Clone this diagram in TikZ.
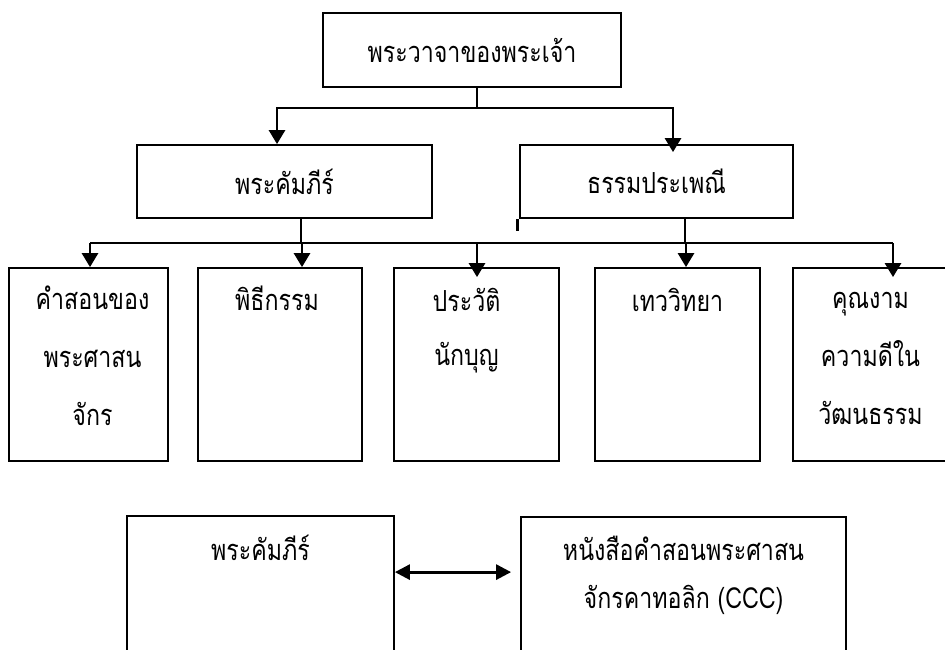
\documentclass[tikz,border=0pt]{standalone}
\usepackage{fontspec}
\newfontfamily\thaifont[Script=Thai,FakeStretch=0.8]{Loma}
\usetikzlibrary{arrows.meta,calc}
\begin{document}
\begin{tikzpicture}[x=1pt,y=-1pt,
  box/.style={draw=black,line width=1.8pt,rectangle,inner sep=0pt},
  txt/.style={font=\thaifont\fontsize{29}{58}\selectfont,align=center,inner sep=0pt},
  conn/.style={draw=black,line width=2.8pt},
  arr/.style={conn,-{Triangle[width=16pt,length=14pt]}},
  darr/.style={conn,{Triangle[width=15pt,length=15pt]}-{Triangle[width=15pt,length=15pt]}}]
\useasboundingbox (0,0) rectangle (945,649);
\fill[white] (0,0) rectangle (945,649);
% boxes
\node[box,minimum width=298pt,minimum height=74pt] (top) at (472,50) {};
\node[box,minimum width=295pt,minimum height=73pt] (lm) at (284.5,181.5) {};
\node[box,minimum width=273pt,minimum height=73pt] (rm) at (656.5,181.5) {};
\node[box,minimum width=159pt,minimum height=193pt] (b1) at (88.5,364.5) {};
\node[box,minimum width=164pt,minimum height=193pt] (b2) at (280,364.5) {};
\node[box,minimum width=165pt,minimum height=193pt] (b3) at (476.5,364.5) {};
\node[box,minimum width=165pt,minimum height=193pt] (b4) at (677.5,364.5) {};
\node[box,minimum width=155pt,minimum height=193pt] (b5) at (870.5,364.5) {};
\node[box,minimum width=267pt,minimum height=150pt] (bl) at (260.5,591) {};
\node[box,minimum width=325pt,minimum height=150pt] (br) at (683.5,592) {};
% texts
\node[txt] at (top.center) {พระวาจาของพระเจ้า};
\node[txt] at (lm.center) {พระคัมภีร์};
\node[txt] at (rm.center) {ธรรมประเพณี};
\node[txt,anchor=north] at ($(b1.north)+(4,19)$) {คำสอนของ\\พระศาสน\\จักร};
\node[txt,anchor=north] at ($(b2.north)+(-3,19)$) {พิธีกรรม};
\node[txt,anchor=north] at ($(b3.north)+(-10,21)$) {ประวัติ\\[-4pt]นักบุญ};
\node[txt,anchor=north] at ($(b4.north)+(0,21)$) {เทววิทยา};
\node[txt,anchor=north] at ($(b5.north)+(0,25)$) {คุณงาม\\ความดีใน\\วัฒนธรรม};
\node[txt,anchor=north] at ($(bl.north)+(0,20)$) {พระคัมภีร์};
\node[txt,anchor=north] at ($(br.north)+(0,20)$) {หนังสือคำสอนพระศาสน\\[-10pt]จักรคาทอลิก (CCC)};
% connectors level 1
\coordinate (j1) at ($(top.south)+(5,20)$);
\draw[conn] ($(top.south)+(5,0)$) -- (j1);
\draw[arr] (j1) -| ([xshift=-7.5pt]lm.north);
\draw[arr] (j1) -| ([xshift=16.5pt,yshift=-8pt]rm.north);
% connectors level 2
\coordinate (h1) at (90,243);
\coordinate (h2) at (893,243);
\draw[conn] (h1) -- (h2);
\draw[conn] ([xshift=16.5pt]lm.south) -- ([xshift=16.5pt]lm.south |- h1);
\draw[conn] ([xshift=28.5pt]rm.south) -- ([xshift=28.5pt]rm.south |- h1);
\draw[conn] ([xshift=-2pt]rm.south west) -- ++(0,12);
\draw[arr] (h1) -- (h1 |- b1.north);
\draw[arr] ([xshift=22pt]b2.north |- h1) -- ([xshift=22pt]b2.north);
\draw[arr] ([xshift=0.5pt]b3.north |- h1) -- ([xshift=0.5pt,yshift=-10pt]b3.north);
\draw[arr] ([xshift=8.5pt]b4.north |- h1) -- ([xshift=8.5pt]b4.north);
\draw[arr] (h2) -- ([yshift=-10pt]h2 |- b5.north);
% bottom double arrow
\draw[darr] ([yshift=-57pt]bl.north east) -- ([yshift=-56pt,xshift=-9pt]br.north west);
\end{tikzpicture}
\end{document}
